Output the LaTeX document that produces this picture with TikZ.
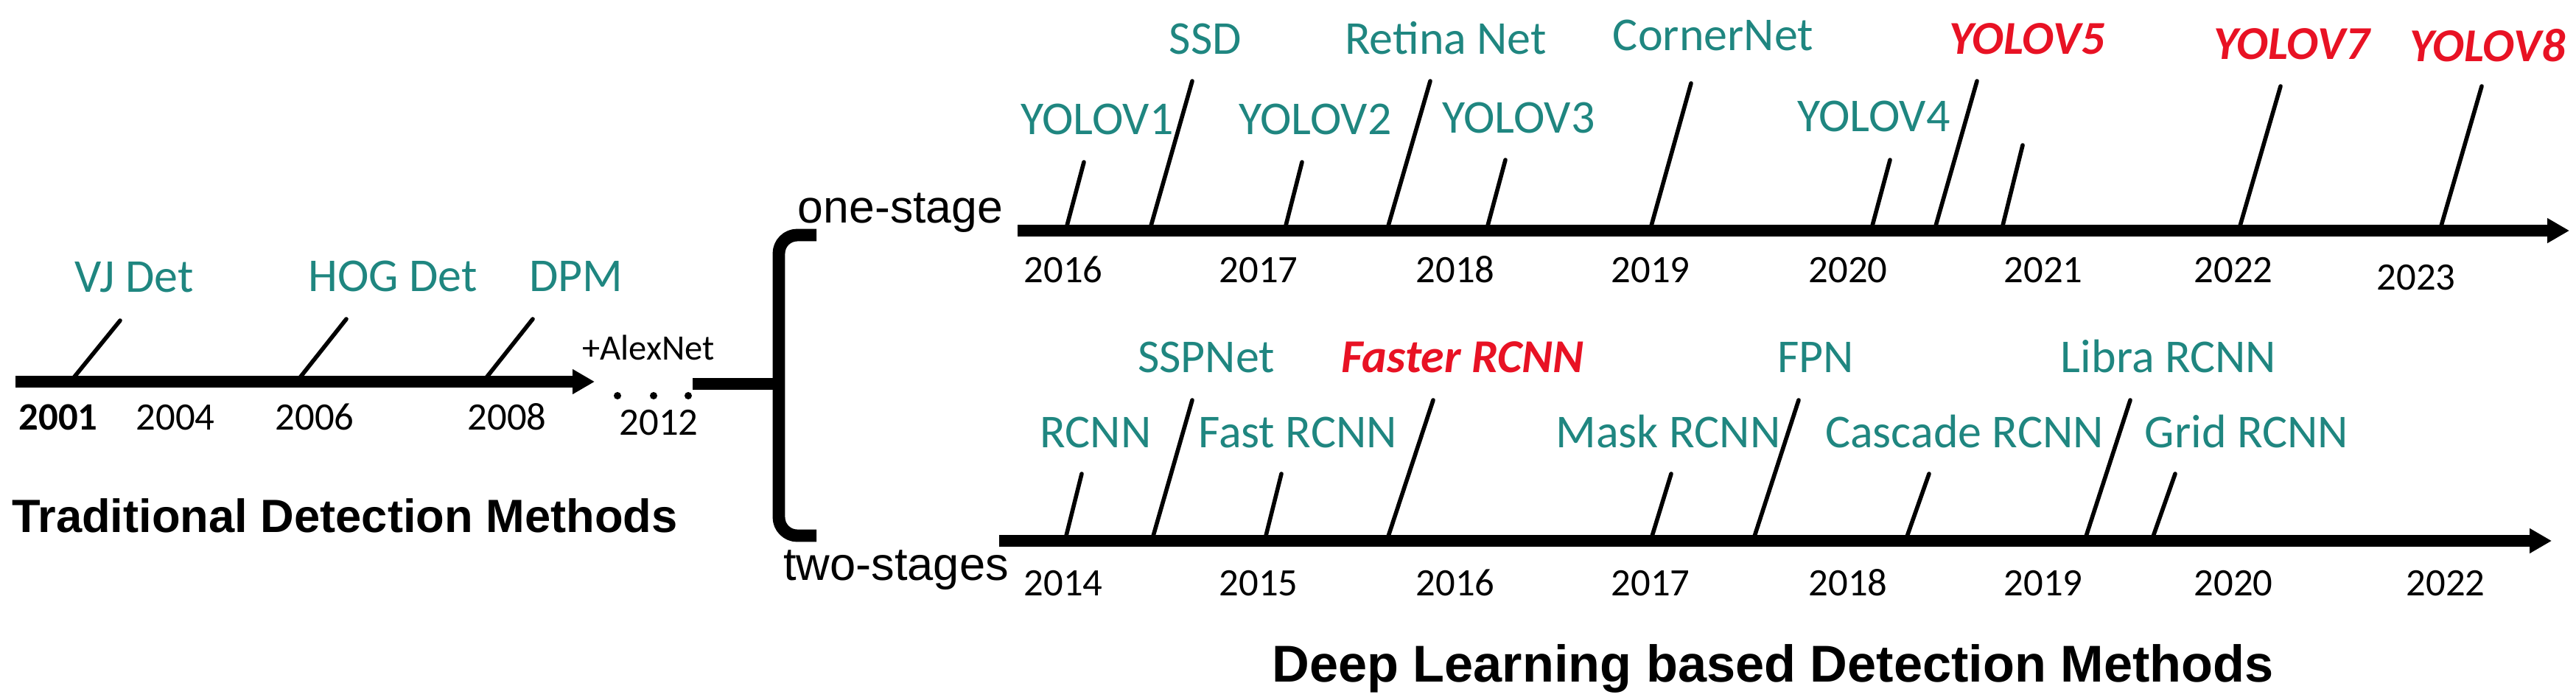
\documentclass[tikz,border=0pt]{standalone}
\usepackage{fontspec}
\setmainfont{Carlito}
\newfontfamily\arialfont{Liberation Sans}
\usetikzlibrary{arrows.meta}
\definecolor{tealc}{RGB}{31,134,128}
\definecolor{redc}{RGB}{232,18,36}

\begin{document}
\begin{tikzpicture}[line cap=round, line join=round, >=Triangle,
  axis/.style={line width=4.7pt, line cap=butt, -{Triangle[length=0.3cm,width=0.32cm]}},
  tick/.style={line width=1.6pt},
  lbl/.style={anchor=base, inner sep=0pt, text=tealc, font=\fontsize{18.2}{20}\selectfont},
  hot/.style={anchor=base, inner sep=0pt, text=redc, font=\fontsize{18.2}{20}\selectfont\bfseries\itshape},
  yr/.style={anchor=base, inner sep=0pt, font=\fontsize{15}{17}\selectfont},
  stage/.style={anchor=base, inner sep=0pt, font=\arialfont\fontsize{17.8}{20}\selectfont},
  title/.style={anchor=base, inner sep=0pt, font=\arialfont\bfseries\fontsize{18}{20}\selectfont}]

\useasboundingbox (0,0) rectangle (34.96,-9.49);

%---------------------------------------------------------------------------------------------------
% traditional methods
\begin{scope}
\draw[axis] (0.21,-5.18) -- (8.07,-5.18);

\draw[tick] (0.98,-5.15) -- (1.63,-4.35);
\draw[tick] (4.05,-5.15) -- (4.70,-4.33);
\draw[tick] (6.58,-5.15) -- (7.23,-4.33);

\node[lbl] (vj)  at (1.82,-3.96) {VJ Det};
\node[lbl] (hog) at (5.33,-3.95) {HOG Det};
\node[lbl] (dpm) at (7.82,-3.95) {DPM};

\node[yr, font=\fontsize{15}{17}\selectfont\bfseries] (y2001) at (0.79,-5.83) {2001};
\node[yr] (y2004) at (2.38,-5.83) {2004};
\node[yr] (y2006) at (4.27,-5.83) {2006};
\node[yr] (y2008) at (6.88,-5.83) {2008};
\node[yr] (y2012) at (8.94,-5.90) {2012};
\node[yr, font=\fontsize{13.8}{15}\selectfont] (alex) at (8.80,-4.88) {+AlexNet};

\fill (8.38,-5.37) circle (0.05);
\fill (8.87,-5.37) circle (0.05);
\fill (9.34,-5.37) circle (0.05);

\node[title] (trad) at (4.68,-7.22) {Traditional Detection Methods};
\end{scope}

% bracket
\draw[line width=4.7pt, line cap=butt] (9.40,-5.21) -- (10.57,-5.21);
\draw[line width=4.8pt, line cap=butt, rounded corners=0.25cm] (11.08,-3.19) -- (10.57,-3.19) -- (10.57,-7.27) -- (11.08,-7.27);

%---------------------------------------------------------------------------------------------------
% one-stage
\begin{scope}
\node[stage] (one) at (12.22,-3.02) {one-stage};
\draw[axis] (13.81,-3.13) -- (34.87,-3.13);

\draw[tick] (14.47,-3.10) -- (14.71,-2.20);
\draw[tick] (15.61,-3.10) -- (16.18,-1.10);
\draw[tick] (17.44,-3.10) -- (17.67,-2.20);
\draw[tick] (18.83,-3.10) -- (19.41,-1.10);
\draw[tick] (20.18,-3.10) -- (20.43,-2.17);
\draw[tick] (22.40,-3.10) -- (22.95,-1.13);
\draw[tick] (25.40,-3.10) -- (25.65,-2.17);
\draw[tick] (26.26,-3.10) -- (26.83,-1.10);
\draw[tick] (27.17,-3.10) -- (27.45,-1.97);
\draw[tick] (30.39,-3.10) -- (30.95,-1.17);
\draw[tick] (33.12,-3.10) -- (33.68,-1.17);

\node[lbl] (ssd)    at (16.36,-0.73) {SSD};
\node[lbl] (retina) at (19.62,-0.73) {Retina Net};
\node[lbl] (corner) at (23.25,-0.68) {CornerNet};
\node[hot] (yolo5)  at (27.51,-0.73) {YOLOV5};
\node[hot] (yolo7)  at (31.10,-0.80) {YOLOV7};
\node[hot] (yolo8)  at (33.76,-0.83) {YOLOV8};

\node[lbl] (yolo1) at (14.89,-1.82) {YOLOV1};
\node[lbl] (yolo2) at (17.85,-1.82) {YOLOV2};
\node[lbl] (yolo3) at (20.61,-1.80) {YOLOV3};
\node[lbl] (yolo4) at (25.43,-1.78) {YOLOV4};

\node[yr] (t2016) at (14.43,-3.83) {2016};
\node[yr] (t2017) at (17.08,-3.83) {2017};
\node[yr] (t2018) at (19.75,-3.83) {2018};
\node[yr] (t2019) at (22.40,-3.83) {2019};
\node[yr] (t2020) at (25.08,-3.83) {2020};
\node[yr] (t2021) at (27.73,-3.83) {2021};
\node[yr] (t2022) at (30.31,-3.83) {2022};
\node[yr] (t2023) at (32.79,-3.93) {2023};
\end{scope}

%---------------------------------------------------------------------------------------------------
% two-stages
\begin{scope}
\node[stage, font=\arialfont\fontsize{18}{20}\selectfont] (two) at (12.16,-7.87) {two-stages};
\draw[axis] (13.56,-7.34) -- (34.63,-7.34);

\draw[tick] (14.46,-7.31) -- (14.68,-6.43);
\draw[tick] (15.64,-7.31) -- (16.18,-5.43);
\draw[tick] (17.17,-7.31) -- (17.39,-6.43);
\draw[tick] (18.83,-7.31) -- (19.45,-5.43);
\draw[tick] (22.41,-7.31) -- (22.68,-6.43);
\draw[tick] (23.80,-7.31) -- (24.41,-5.43);
\draw[tick] (25.87,-7.31) -- (26.18,-6.43);
\draw[tick] (28.30,-7.31) -- (28.91,-5.43);
\draw[tick] (29.21,-7.31) -- (29.52,-6.43);

\node[lbl] (sspnet) at (16.37,-5.05) {SSPNet};
\node[hot] (faster) at (19.85,-5.05) {Faster RCNN};
\node[lbl] (fpn)    at (24.64,-5.05) {FPN};
\node[lbl] (libra)  at (29.43,-5.05) {Libra RCNN};

\node[lbl] (rcnn)    at (14.87,-6.07) {RCNN};
\node[lbl] (fast)    at (17.61,-6.07) {Fast RCNN};
\node[lbl] (mask)    at (22.64,-6.07) {Mask RCNN};
\node[lbl] (cascade) at (26.66,-6.07) {Cascade RCNN};
\node[lbl] (grid)    at (30.49,-6.07) {Grid RCNN};

\node[yr] (b2014) at (14.43,-8.08) {2014};
\node[yr] (b2015) at (17.08,-8.08) {2015};
\node[yr] (b2016) at (19.75,-8.08) {2016};
\node[yr] (b2017) at (22.40,-8.08) {2017};
\node[yr] (b2018) at (25.08,-8.08) {2018};
\node[yr] (b2019) at (27.73,-8.08) {2019};
\node[yr] (b2020) at (30.31,-8.08) {2020};
\node[yr] (b2022) at (33.19,-8.08) {2022};

\node[title, font=\arialfont\bfseries\fontsize{20}{22}\selectfont] (deep) at (24.06,-9.25) {Deep Learning based Detection Methods};
\end{scope}

\end{tikzpicture}
\end{document}
